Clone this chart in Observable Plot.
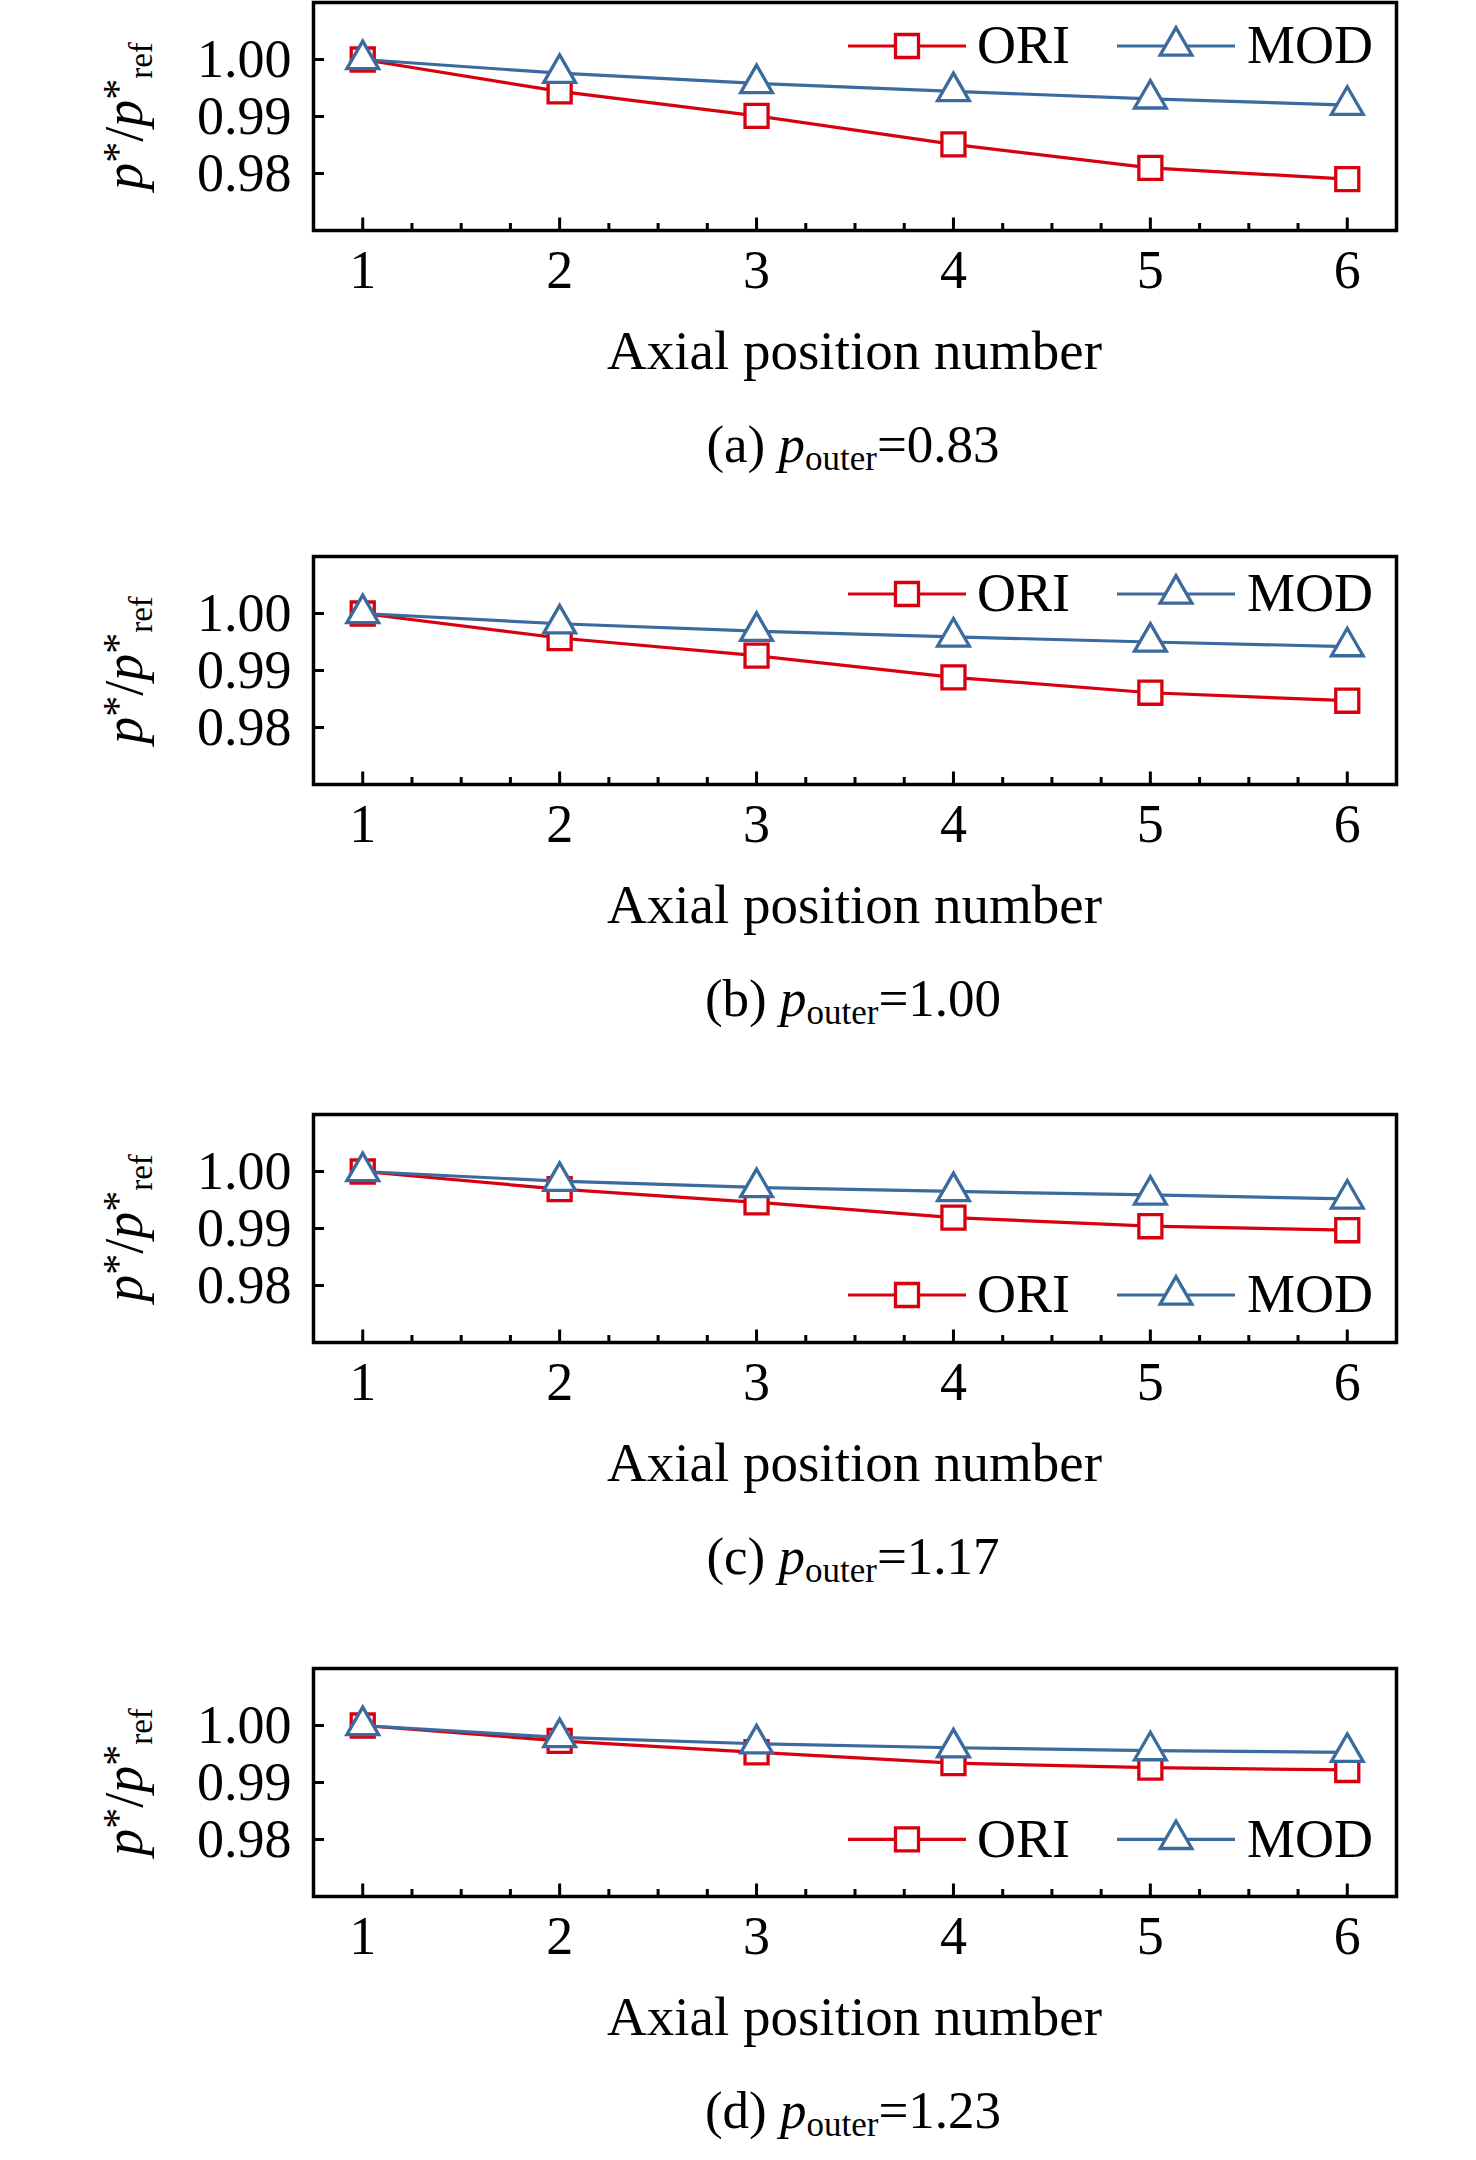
<!DOCTYPE html>
<html>
<head>
<meta charset="utf-8">
<script src="https://cdn.jsdelivr.net/npm/d3@7"></script>
<script src="https://cdn.jsdelivr.net/npm/@observablehq/plot@0.6"></script>
<style>
  body { margin: 0; background: #fff; }
  #root { position: relative; width: 1476px; height: 2160px; overflow: hidden; }
  .panel { position: absolute; left: 0; }
</style>
</head>
<body>
<div id="root"></div>
<script>
// ---- data ----
const positions = [1, 2, 3, 4, 5, 6];
const panelTags = ["(a)", "(b)", "(c)", "(d)"];
const pOuter = ["0.83", "1.00", "1.17", "1.23"];
const seriesNames = ["ORI", "MOD"];

const oriA = [1.000, 0.9944, 0.9901, 0.9851, 0.9810, 0.9790];
const modA = [1.000, 0.9976, 0.9958, 0.9944, 0.9931, 0.9920];
const oriB = [1.000, 0.9957, 0.9926, 0.9888, 0.9861, 0.9847];
const modB = [1.000, 0.9982, 0.9969, 0.9959, 0.9950, 0.9942];
const oriC = [1.000, 0.9969, 0.9946, 0.9919, 0.9904, 0.9897];
const modC = [1.000, 0.9983, 0.9972, 0.9965, 0.9959, 0.9952];
const oriD = [1.000, 0.9973, 0.9953, 0.9934, 0.9926, 0.9922];
const modD = [1.000, 0.9979, 0.9968, 0.9961, 0.9956, 0.9953];

const xTicks = [1, 2, 3, 4, 5, 6];
const xMinorTicks = [1.25, 1.5, 1.75, 2.25, 2.5, 2.75, 3.25, 3.5, 3.75, 4.25, 4.5, 4.75, 5.25, 5.5, 5.75];
const yTicks = [0.98, 0.99, 1.00];
const xLabel = "Axial position number";

// ---- layout / style ----
const RED = "#d8000f";
const BLUE = "#3b6a9d";
const FONT = "'Liberation Serif', 'Times New Roman', serif";
const W = 1476, H = 494, MT = 2, MB = 264, ML = 313, MR = 80;
const plotH = H - MT - MB, plotW = W - ML - MR;
const panelTops = [0, 554, 1112, 1666];
const legendYs = [46, 40, 183, 173.3];
const SQ_R = 13, TRI_R = 11.8;

const panels = [
  {ori: oriA, mod: modA},
  {ori: oriB, mod: modB},
  {ori: oriC, mod: modC},
  {ori: oriD, mod: modD}
];

const root = document.getElementById("root");

panels.forEach((p, i) => {
  const ori = positions.map((x, k) => ({x, y: p.ori[k]}));
  const mod = positions.map((x, k) => ({x, y: p.mod[k]}));

  const svg = Plot.plot({
    width: W, height: H,
    marginTop: MT, marginBottom: MB, marginLeft: ML, marginRight: MR,
    style: {fontFamily: FONT, background: "#fff", color: "#000", overflow: "visible"},
    x: {domain: [0.75, 6.25]},
    y: {domain: [0.97, 1.01]},
    marks: [
      Plot.axisX({ticks: xTicks, tickSize: 0, tickPadding: 19, fontSize: 54, label: null, tickFormat: d => String(d)}),
      Plot.axisY({ticks: yTicks, tickSize: 0, tickPadding: 22, fontSize: 54, label: null, tickFormat: d3.format(".2f")}),
      Plot.ruleX(xTicks, {insetTop: plotH - 12.5, stroke: "#000", strokeWidth: 3}),
      Plot.ruleX(xMinorTicks, {insetTop: plotH - 7, stroke: "#000", strokeWidth: 3}),
      Plot.ruleY(yTicks, {insetRight: plotW - 11, stroke: "#000", strokeWidth: 3}),
      Plot.line(ori, {x: "x", y: "y", stroke: RED, strokeWidth: 3.2}),
      Plot.dot(ori, {x: "x", y: "y", symbol: "square", r: SQ_R, stroke: RED, fill: "#fff", strokeWidth: 3.3}),
      Plot.line(mod, {x: "x", y: "y", stroke: BLUE, strokeWidth: 3.2}),
      Plot.dot(mod, {x: "x", y: "y", symbol: "triangle", r: TRI_R, stroke: BLUE, fill: "#fff", strokeWidth: 3.3}),
      Plot.frame({stroke: "#000", strokeWidth: 3.5})
    ]
  });

  const s = d3.select(svg);

  // y-axis label p*/p*_ref
  const yl = s.append("text")
    .attr("transform", `translate(142,${MT + plotH / 2}) rotate(-90)`)
    .attr("text-anchor", "middle")
    .attr("font-family", FONT)
    .attr("font-size", 54)
    .attr("fill", "#000");
  yl.append("tspan").attr("font-style", "italic").text("p");
  yl.append("tspan").attr("font-size", 42).attr("dy", -10).text("*");
  yl.append("tspan").attr("dy", 10).text("/");
  yl.append("tspan").attr("font-style", "italic").text("p");
  yl.append("tspan").attr("font-size", 42).attr("dy", -10).text("*");
  yl.append("tspan").attr("font-size", 33).attr("dy", 20).text("ref");

  // x-axis label
  s.append("text")
    .attr("x", ML + plotW / 2).attr("y", 369)
    .attr("text-anchor", "middle")
    .attr("font-family", FONT).attr("font-size", 55).attr("fill", "#000")
    .text(xLabel);

  // caption
  const cap = s.append("text")
    .attr("x", 853).attr("y", 462)
    .attr("text-anchor", "middle")
    .attr("font-family", FONT).attr("font-size", 53).attr("fill", "#000");
  cap.append("tspan").text(panelTags[i] + "\u00a0");
  cap.append("tspan").attr("font-style", "italic").text("p");
  cap.append("tspan").attr("font-size", 35).attr("dy", 8).text("outer");
  cap.append("tspan").attr("dy", -8).text("=" + pOuter[i]);

  // legend
  const ly = legendYs[i];
  const entries = [
    {name: seriesNames[0], color: RED, sym: d3.symbolSquare, r: SQ_R, x1: 848, x2: 966, xs: 907, xt: 977},
    {name: seriesNames[1], color: BLUE, sym: d3.symbolTriangle, r: TRI_R, x1: 1117, x2: 1235, xs: 1176, xt: 1247}
  ];
  entries.forEach(e => {
    s.append("line")
      .attr("x1", e.x1).attr("x2", e.x2).attr("y1", ly).attr("y2", ly)
      .attr("stroke", e.color).attr("stroke-width", 3.2);
    s.append("path")
      .attr("d", d3.symbol().type(e.sym).size(Math.PI * e.r * e.r)())
      .attr("transform", `translate(${e.xs},${ly})`)
      .attr("fill", "#fff").attr("stroke", e.color).attr("stroke-width", 3.3);
    s.append("text")
      .attr("x", e.xt).attr("y", ly).attr("dy", "0.32em")
      .attr("text-anchor", "start")
      .attr("font-family", FONT).attr("font-size", 54).attr("fill", "#000")
      .text(e.name);
  });

  const div = document.createElement("div");
  div.className = "panel";
  div.style.top = panelTops[i] + "px";
  div.appendChild(svg);
  root.appendChild(div);
});
</script>
</body>
</html>
